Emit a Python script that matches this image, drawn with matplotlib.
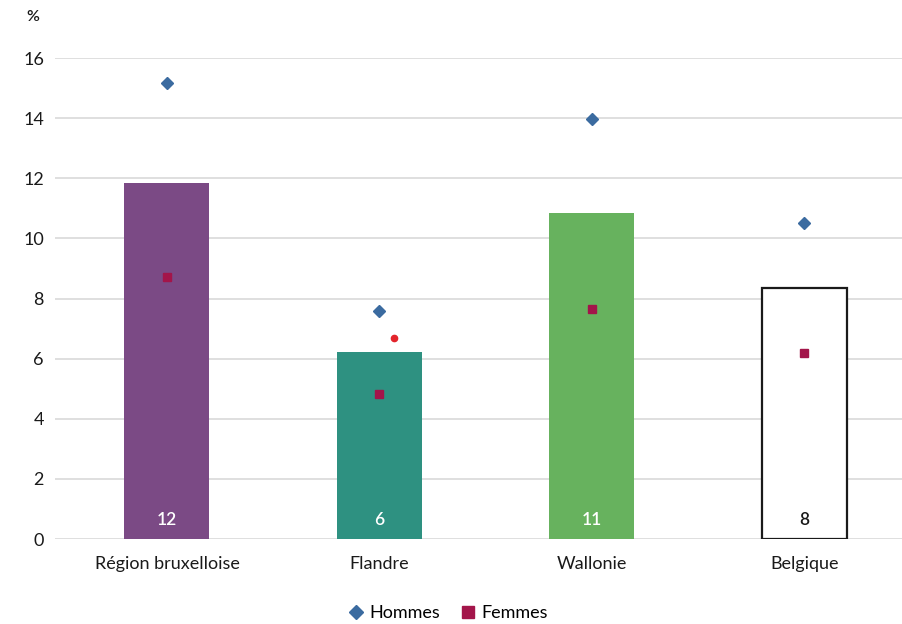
import numpy as np
import matplotlib.pyplot as plt
from matplotlib.lines import Line2D

regions = ["Région bruxelloise", "Flandre", "Wallonie", "Belgique"]
total = [11.84, 6.22, 10.85, 8.35]
total_labels = ["12", "6", "11", "8"]
hommes = [15.17, 7.58, 13.97, 10.51]
femmes = [8.72, 4.82, 7.65, 6.19]
extra_x = [1.07]
extra_y = [6.69]

bar_colors = ["#7B4A85", "#2E9181", "#67B25E", "white"]
edge_colors = ["#7B4A85", "#2E9181", "#67B25E", "#1a1a1a"]
text_colors = ["white", "white", "white", "#1a1a1a"]

plt.rcParams['font.family'] = ['Lato', 'DejaVu Sans']

fig = plt.figure(figsize=(9.02, 6.24), dpi=100)
ax = fig.add_axes([0.061, 0.136, 0.939, 0.771])

x = np.arange(len(regions))
ax.bar(x, total, width=0.4, color=bar_colors, edgecolor=edge_colors,
       linewidth=[0, 0, 0, 1.6], zorder=2)
for xi, lab, c in zip(x, total_labels, text_colors):
    ax.text(xi, 0.62, lab, ha="center", va="center", color=c, fontsize=12.5,
            fontweight="semibold", zorder=4)

ax.plot(x, hommes, linestyle="none", marker="D", markersize=6,
        color="#3B6BA0", zorder=3)
ax.plot(x, femmes, linestyle="none", marker="s", markersize=5.5,
        color="#A3154A", zorder=3)
ax.plot(extra_x, extra_y, linestyle="none", marker="o", markersize=4.5,
        color="#E3242B", zorder=3)

ax.set_xlim(-0.527, 3.46)
ax.set_ylim(0, 16)
ax.set_yticks(np.arange(0, 17, 2))
ax.set_xticks(x)
ax.set_xticklabels(regions, fontsize=13, color="#1a1a1a")
ax.tick_params(axis="y", labelsize=13, colors="#1a1a1a", length=0, pad=8)
ax.tick_params(axis="x", length=0, pad=12)
ax.grid(axis="y", color="#D9D9D9", linewidth=1.2, zorder=0)
ax.set_axisbelow(True)
for s in ax.spines.values():
    s.set_visible(False)

fig.text(0.036, 0.972, "%", fontsize=11.5, fontweight="semibold", ha="center",
         va="center", color="#1a1a1a")

handles = [
    Line2D([], [], linestyle="none", marker="D", markersize=7.5, color="#3B6BA0", label="Hommes"),
    Line2D([], [], linestyle="none", marker="s", markersize=8.5, color="#A3154A", label="Femmes"),
]
fig.legend(handles=handles, loc="center", bbox_to_anchor=(0.496, 0.017), ncol=2,
           frameon=False, fontsize=13, handletextpad=0.25, columnspacing=1.0,
           handlelength=1.0)

fig.savefig("out.png", dpi=100, facecolor="white")
